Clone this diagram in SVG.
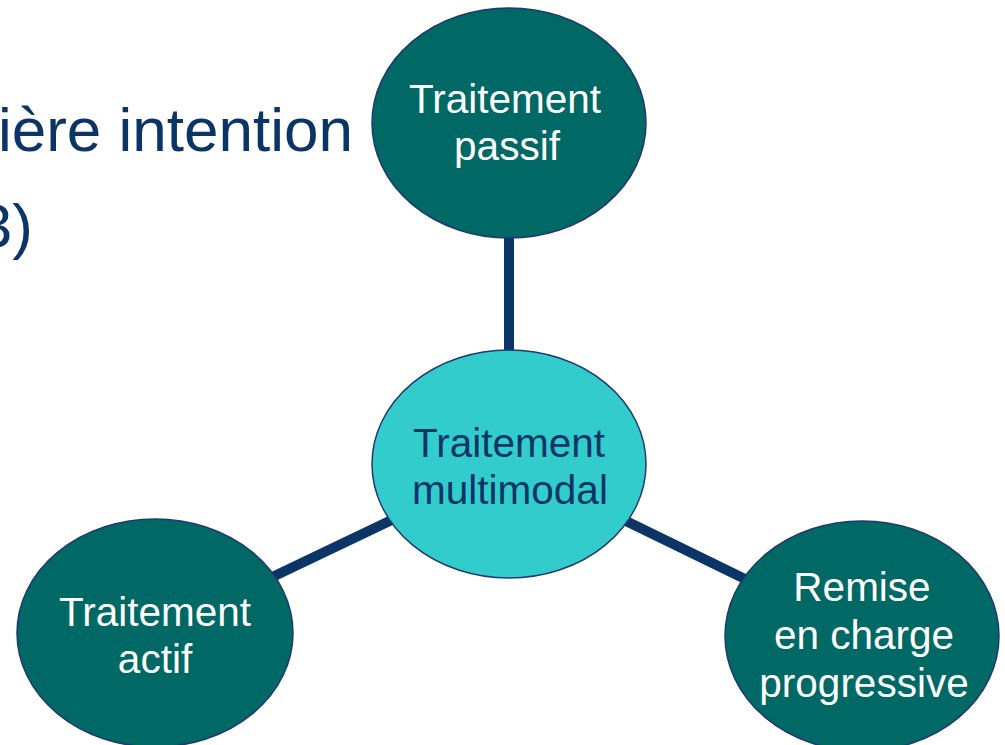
<svg xmlns="http://www.w3.org/2000/svg" width="1005" height="745" viewBox="0 0 1005 745">
  <style>
    .title { font-family: "Liberation Sans", Arial, sans-serif; font-size: 62px; fill: #0a3566; }
    .conn { stroke: #0a3566; stroke-width: 10; fill: none; }
    .outer { fill: #006865; stroke: #1f3a70; stroke-width: 1.5; }
    .hub { fill: #33cccc; stroke: #1f3a70; stroke-width: 1.5; }
    .lbl { font-family: "Liberation Sans", Arial, sans-serif; font-size: 40.5px; text-anchor: middle; }
    .lbl-light { fill: #ffffff; }
    .lbl-dark { fill: #0a3566; }
  </style>
  <rect width="1005" height="745" fill="#ffffff"/>

  <!-- heading, running off the left edge -->
  <g id="heading">
    <text class="title" x="353" y="151" text-anchor="end">ière intention</text>
    <text class="title" x="33" y="247" text-anchor="end">3)</text>
  </g>

  <!-- spokes between hub and outer nodes -->
  <g id="connectors">
    <line class="conn" x1="509" y1="123" x2="509" y2="464"/>
    <line class="conn" x1="509" y1="464" x2="155" y2="633"/>
    <line class="conn" x1="509" y1="464" x2="862" y2="636"/>
  </g>

  <g id="node-passif">
    <ellipse class="outer" cx="509" cy="123" rx="137" ry="115"/>
    <text class="lbl lbl-light" x="505" y="113">Traitement</text>
    <text class="lbl lbl-light" x="507" y="160">passif</text>
  </g>

  <g id="node-multimodal">
    <ellipse class="hub" cx="509" cy="464" rx="137" ry="114"/>
    <text class="lbl lbl-dark" x="509" y="457">Traitement</text>
    <text class="lbl lbl-dark" x="510" y="504">multimodal</text>
  </g>

  <g id="node-actif">
    <ellipse class="outer" cx="155" cy="633" rx="138" ry="114"/>
    <text class="lbl lbl-light" x="155" y="626">Traitement</text>
    <text class="lbl lbl-light" x="155" y="673">actif</text>
  </g>

  <g id="node-remise">
    <ellipse class="outer" cx="862" cy="636" rx="137" ry="115"/>
    <text class="lbl lbl-light" x="862" y="601">Remise</text>
    <text class="lbl lbl-light" x="864" y="649">en charge</text>
    <text class="lbl lbl-light" x="864" y="697">progressive</text>
  </g>
</svg>
